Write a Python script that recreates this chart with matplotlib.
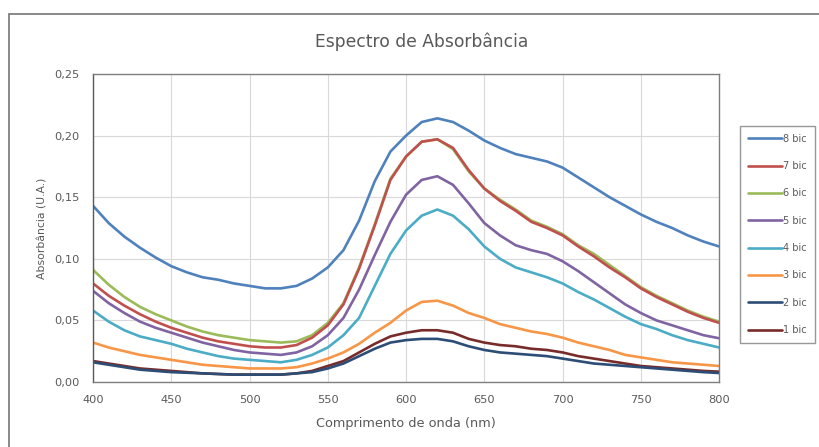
import matplotlib
matplotlib.use("Agg")
import matplotlib.pyplot as plt
from matplotlib.patches import Rectangle
from matplotlib.ticker import FuncFormatter, MultipleLocator

plt.rcParams["font.family"] = ["DejaVu Sans"]

# -- data --------------------------------------------------------------------
wavelength = [400, 410, 420, 430, 440, 450, 460, 470, 480, 490,
              500, 510, 520, 530, 540, 550, 560, 570, 580, 590,
              600, 610, 620, 630, 640, 650, 660, 670, 680, 690,
              700, 710, 720, 730, 740, 750, 760, 770, 780, 790, 800]

bic8 = [0.143, 0.129, 0.118, 0.109, 0.101, 0.094, 0.089, 0.085, 0.083, 0.080,
        0.078, 0.076, 0.076, 0.078, 0.084, 0.093, 0.107, 0.131, 0.163, 0.187,
        0.200, 0.211, 0.214, 0.211, 0.204, 0.196, 0.190, 0.185, 0.182, 0.179,
        0.174, 0.166, 0.158, 0.150, 0.143, 0.136, 0.130, 0.125, 0.119, 0.114, 0.110]

bic7 = [0.080, 0.070, 0.062, 0.055, 0.049, 0.044, 0.040, 0.036, 0.033, 0.031,
        0.029, 0.028, 0.028, 0.030, 0.036, 0.046, 0.063, 0.092, 0.127, 0.164,
        0.183, 0.195, 0.197, 0.190, 0.172, 0.157, 0.147, 0.139, 0.130, 0.125,
        0.119, 0.110, 0.102, 0.093, 0.085, 0.076, 0.069, 0.063, 0.057, 0.052, 0.048]

bic6 = [0.091, 0.079, 0.069, 0.061, 0.055, 0.050, 0.045, 0.041, 0.038, 0.036,
        0.034, 0.033, 0.032, 0.033, 0.038, 0.048, 0.064, 0.093, 0.128, 0.165,
        0.183, 0.195, 0.197, 0.189, 0.171, 0.157, 0.148, 0.140, 0.131, 0.126,
        0.120, 0.111, 0.104, 0.095, 0.086, 0.077, 0.070, 0.064, 0.058, 0.053, 0.049]

bic5 = [0.074, 0.064, 0.056, 0.049, 0.044, 0.040, 0.036, 0.032, 0.029, 0.026,
        0.024, 0.023, 0.022, 0.024, 0.029, 0.038, 0.052, 0.075, 0.103, 0.130,
        0.152, 0.164, 0.167, 0.160, 0.145, 0.129, 0.119, 0.111, 0.107, 0.104,
        0.098, 0.090, 0.081, 0.072, 0.063, 0.056, 0.050, 0.046, 0.042, 0.038, 0.0355]

bic4 = [0.058, 0.049, 0.042, 0.037, 0.034, 0.031, 0.027, 0.024, 0.021, 0.019,
        0.018, 0.017, 0.016, 0.018, 0.022, 0.028, 0.038, 0.052, 0.078, 0.104,
        0.123, 0.135, 0.140, 0.135, 0.124, 0.110, 0.100, 0.093, 0.089, 0.085,
        0.080, 0.073, 0.067, 0.060, 0.053, 0.047, 0.043, 0.038, 0.034, 0.031, 0.028]

bic3 = [0.032, 0.028, 0.025, 0.022, 0.020, 0.018, 0.016, 0.014, 0.013, 0.012,
        0.011, 0.011, 0.011, 0.012, 0.015, 0.019, 0.024, 0.031, 0.040, 0.048,
        0.058, 0.065, 0.066, 0.062, 0.056, 0.052, 0.047, 0.044, 0.041, 0.039,
        0.036, 0.032, 0.029, 0.026, 0.022, 0.020, 0.018, 0.016, 0.015, 0.014, 0.013]

bic2 = [0.016, 0.014, 0.012, 0.010, 0.009, 0.008, 0.0075, 0.007, 0.0065, 0.006,
        0.006, 0.006, 0.006, 0.007, 0.008, 0.011, 0.015, 0.021, 0.027, 0.032,
        0.034, 0.035, 0.035, 0.033, 0.029, 0.026, 0.024, 0.023, 0.022, 0.021,
        0.019, 0.017, 0.015, 0.014, 0.013, 0.012, 0.011, 0.010, 0.009, 0.008, 0.0073]

bic1 = [0.017, 0.015, 0.013, 0.011, 0.010, 0.009, 0.008, 0.007, 0.0065, 0.006,
        0.006, 0.006, 0.006, 0.007, 0.009, 0.013, 0.017, 0.024, 0.031, 0.037,
        0.040, 0.042, 0.042, 0.040, 0.035, 0.032, 0.030, 0.029, 0.027, 0.026,
        0.024, 0.021, 0.019, 0.017, 0.015, 0.013, 0.012, 0.011, 0.010, 0.009, 0.0084]

labels = ["1 bic", "2 bic", "3 bic", "4 bic", "5 bic", "6 bic", "7 bic", "8 bic"]
series = [bic1, bic2, bic3, bic4, bic5, bic6, bic7, bic8]
colors = ["#772C2A", "#2C4D75", "#F79646", "#4BACC6",
          "#8064A2", "#9BBB59", "#C0504D", "#4F81BD"]

# -- figure --------------------------------------------------------------------
fig = plt.figure(figsize=(8.19, 4.47), dpi=100)
ax = fig.add_axes([0.1136, 0.1454, 0.7644, 0.6891])

lines = []
for vals, lab, col in zip(series, labels, colors):
    ln, = ax.plot(wavelength, vals, color=col, lw=1.9, label=lab,
                  solid_joinstyle="round", solid_capstyle="round")
    lines.append(ln)

ax.set_xlim(400, 800)
ax.set_ylim(0, 0.25)
ax.xaxis.set_major_locator(MultipleLocator(50))
ax.yaxis.set_major_locator(MultipleLocator(0.05))
ax.yaxis.set_major_formatter(FuncFormatter(lambda v, p: f"{v:.2f}".replace(".", ",")))
ax.grid(True, color="#D9D9D9", lw=0.8)
ax.set_axisbelow(True)
ax.tick_params(length=0, labelsize=8.2, colors="#595959")
ax.tick_params(axis="y", pad=10)
ax.tick_params(axis="x", pad=9)
for s in ax.spines.values():
    s.set_color("#7F7F7F")
    s.set_linewidth(1.0)
ax.spines["left"].set_color("#595959")

ax.set_xlabel("Comprimento de onda (nm)", fontsize=9.3, color="#595959")
ax.set_ylabel("Absorbância (U.A.)", fontsize=7.8, color="#595959")
ax.xaxis.set_label_coords(0.5, -0.115)
ax.yaxis.set_label_coords(-0.072, 0.5)

fig.text(0.515, 0.906, "Espectro de Absorbância", ha="center", va="center",
         fontsize=12.3, color="#595959")

leg = fig.legend(lines[::-1], labels[::-1], loc="upper left",
                 bbox_to_anchor=(0.9035, 0.718), fontsize=7, frameon=True,
                 fancybox=False, edgecolor="#7F7F7F", labelspacing=1.78,
                 handlelength=3.5, handletextpad=0.15, borderpad=0.8,
                 labelcolor="#595959", borderaxespad=0)
leg.get_frame().set_linewidth(1.0)

# outer chart border (right and bottom edges fall outside the picture)
fig.patches.append(Rectangle((0.011, -0.05), 1.05, 1.0187, transform=fig.transFigure,
                             fill=False, edgecolor="#7F7F7F", lw=1.3))

plt.savefig("out.png", dpi=100)
